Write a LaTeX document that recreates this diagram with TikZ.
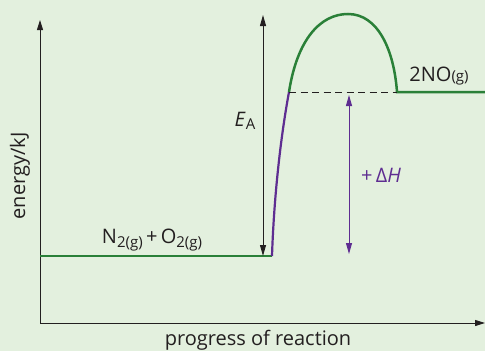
\documentclass[tikz,border=0pt]{standalone}
\usepackage{fontspec}
\setmainfont{Open Sans}
\usetikzlibrary{arrows.meta}
\definecolor{bg}{HTML}{E3F0DE}
\definecolor{grn}{HTML}{2A8038}
\definecolor{pur}{HTML}{5E2D91}
\definecolor{ink}{HTML}{231F20}
\newcommand{\subx}[1]{\raisebox{-0.3ex}{\fontsize{15}{15}\selectfont #1}}
\tikzset{
  axis/.style={draw=ink, line width=1pt, -{Triangle[length=10pt,width=6pt]}},
  dbl/.style={line width=1pt, {Triangle[length=11pt,width=6pt]}-{Triangle[length=11pt,width=6pt]}},
  lvl/.style={draw=grn, line width=2.5pt},
  lbl/.style={inner sep=0pt, font=\fontsize{20}{20}\selectfont, text=ink}
}
\begin{document}
\begin{tikzpicture}[x=1pt,y=-1pt]
\useasboundingbox (0,0) rectangle (485,351);
\fill[bg] (0,0) rectangle (485,351);
\coordinate (O) at (40,323);
\coordinate (ytop) at (40,20);
\coordinate (xend) at (485,323);
\draw[axis] (O) -- (ytop);
\draw[axis] (O) -- (xend);
\coordinate (r0) at (40,256);
\coordinate (r1) at (272,256);
\coordinate (ts) at (289,92);
\coordinate (pk) at (348,14);
\coordinate (p0) at (397,92);
\coordinate (p1) at (485,92);
\draw[lvl] (r0) -- (r1);
\draw[draw=pur, line width=2.2pt] (r1) .. controls (274,195) and (281,135) .. (ts);
\draw[lvl] (ts) .. controls (297,40) and (320,14) .. (pk) .. controls (378,14) and (394,50) .. (p0) -- (p1);
\draw[ink, dashed, dash pattern=on 7pt off 4.5pt, line width=0.8pt] (ts) -- (p0);
\coordinate (ea1) at (263,15);
\coordinate (ea2) at (263,256);
\draw[dbl, draw=ink, fill=ink] (ea1) -- (ea2);
\coordinate (dh1) at (349,95);
\coordinate (dh2) at (349,254);
\draw[dbl, draw=pur, fill=pur] (dh1) -- (dh2);
\node[lbl] (ealbl) at (245,121) {\textit{E}\subx{A}};
\node[lbl, text=pur] (dhlbl) at (381,175) {+\,Δ\textit{H}};
\node[lbl] (reac) at (152,240) {N\subx{2(g)}\,+\,O\subx{2(g)}};
\node[lbl] (prod) at (439,76) {2NO{\fontsize{15}{15}\selectfont(g)}};
\node[lbl, rotate=90] (ylbl) at (20,176) {energy/kJ};
\node[lbl, anchor=base] (xlbl) at (258,345.5) {progress of reaction};
\end{tikzpicture}
\end{document}
